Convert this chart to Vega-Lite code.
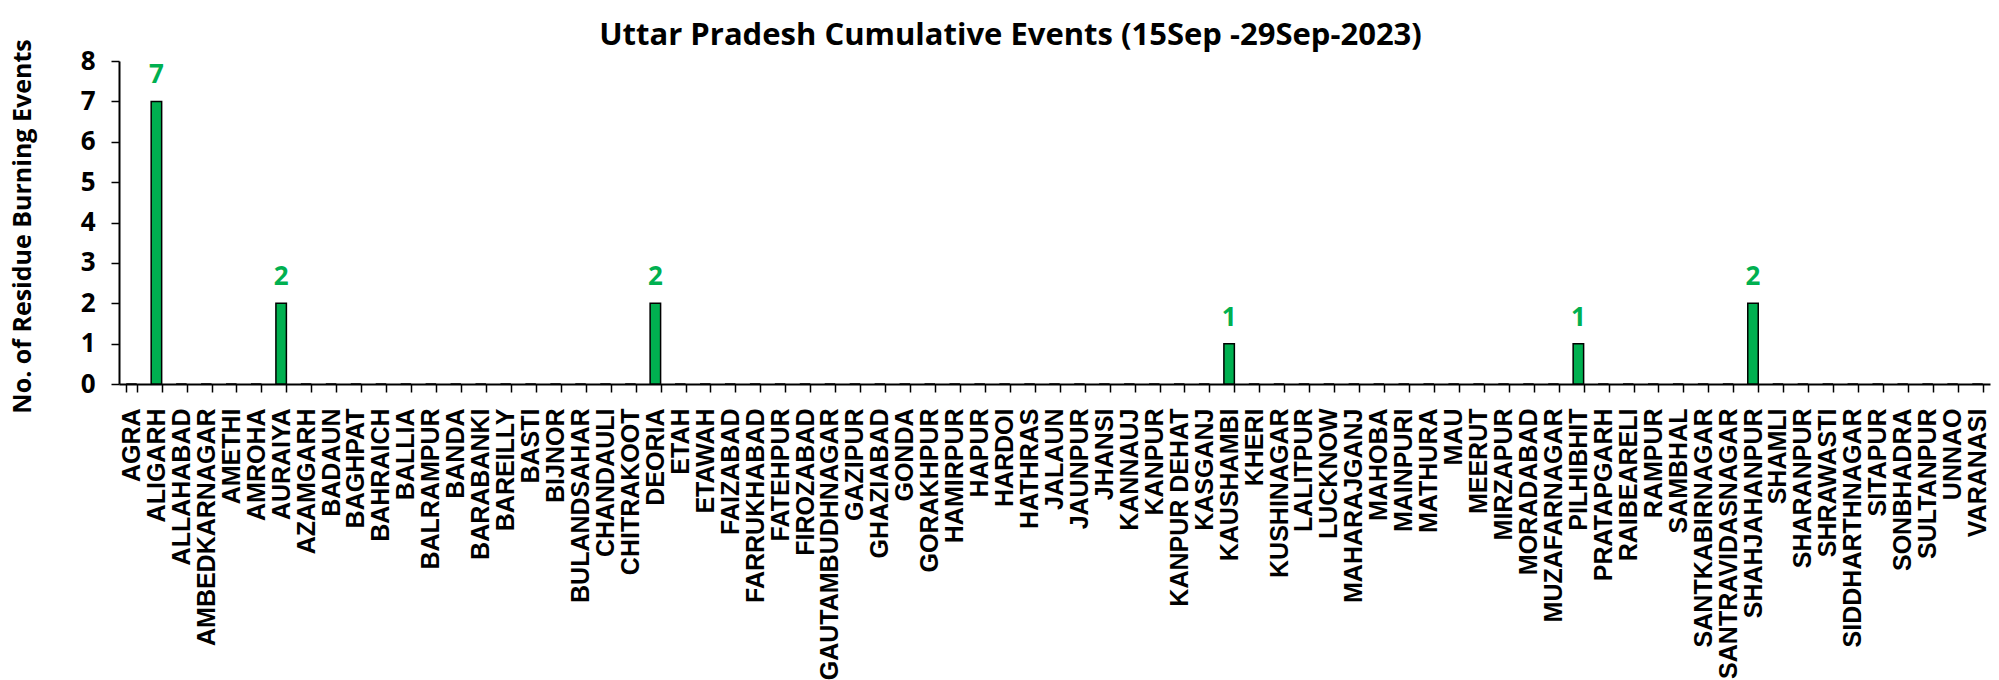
{
  "$schema": "https://vega.github.io/schema/vega-lite/v6.json",
  "width": 1871,
  "height": 323,
  "autosize": {"type": "none"},
  "padding": {"left": 119, "top": 61, "right": 9, "bottom": 296},
  "background": "white",
  "config": {"view": {"stroke": null}},
  "title": {
    "text": "Uttar Pradesh Cumulative Events (15Sep -29Sep-2023)",
    "font": "Open Sans",
    "fontSize": 31,
    "fontWeight": "bold",
    "color": "#000000",
    "anchor": "middle",
    "baseline": "alphabetic",
    "offset": 15,
    "dx": -44,
    "dy": 52
  },
  "data": {
    "values": [
      {"district": "AGRA", "v": 0},
      {"district": "ALIGARH", "v": 7},
      {"district": "ALLAHABAD", "v": 0},
      {"district": "AMBEDKARNAGAR", "v": 0},
      {"district": "AMETHI", "v": 0},
      {"district": "AMROHA", "v": 0},
      {"district": "AURAIYA", "v": 2},
      {"district": "AZAMGARH", "v": 0},
      {"district": "BADAUN", "v": 0},
      {"district": "BAGHPAT", "v": 0},
      {"district": "BAHRAICH", "v": 0},
      {"district": "BALLIA", "v": 0},
      {"district": "BALRAMPUR", "v": 0},
      {"district": "BANDA", "v": 0},
      {"district": "BARABANKI", "v": 0},
      {"district": "BAREILLY", "v": 0},
      {"district": "BASTI", "v": 0},
      {"district": "BIJNOR", "v": 0},
      {"district": "BULANDSAHAR", "v": 0},
      {"district": "CHANDAULI", "v": 0},
      {"district": "CHITRAKOOT", "v": 0},
      {"district": "DEORIA", "v": 2},
      {"district": "ETAH", "v": 0},
      {"district": "ETAWAH", "v": 0},
      {"district": "FAIZABAD", "v": 0},
      {"district": "FARRUKHABAD", "v": 0},
      {"district": "FATEHPUR", "v": 0},
      {"district": "FIROZABAD", "v": 0},
      {"district": "GAUTAMBUDHNAGAR", "v": 0},
      {"district": "GAZIPUR", "v": 0},
      {"district": "GHAZIABAD", "v": 0},
      {"district": "GONDA", "v": 0},
      {"district": "GORAKHPUR", "v": 0},
      {"district": "HAMIRPUR", "v": 0},
      {"district": "HAPUR", "v": 0},
      {"district": "HARDOI", "v": 0},
      {"district": "HATHRAS", "v": 0},
      {"district": "JALAUN", "v": 0},
      {"district": "JAUNPUR", "v": 0},
      {"district": "JHANSI", "v": 0},
      {"district": "KANNAUJ", "v": 0},
      {"district": "KANPUR", "v": 0},
      {"district": "KANPUR DEHAT", "v": 0},
      {"district": "KASGANJ", "v": 0},
      {"district": "KAUSHAMBI", "v": 1},
      {"district": "KHERI", "v": 0},
      {"district": "KUSHINAGAR", "v": 0},
      {"district": "LALITPUR", "v": 0},
      {"district": "LUCKNOW", "v": 0},
      {"district": "MAHARAJGANJ", "v": 0},
      {"district": "MAHOBA", "v": 0},
      {"district": "MAINPURI", "v": 0},
      {"district": "MATHURA", "v": 0},
      {"district": "MAU", "v": 0},
      {"district": "MEERUT", "v": 0},
      {"district": "MIRZAPUR", "v": 0},
      {"district": "MORADABAD", "v": 0},
      {"district": "MUZAFARNAGAR", "v": 0},
      {"district": "PILHIBHIT", "v": 1},
      {"district": "PRATAPGARH", "v": 0},
      {"district": "RAIBEARELI", "v": 0},
      {"district": "RAMPUR", "v": 0},
      {"district": "SAMBHAL", "v": 0},
      {"district": "SANTKABIRNAGAR", "v": 0},
      {"district": "SANTRAVIDASNAGAR", "v": 0},
      {"district": "SHAHJAHANPUR", "v": 2},
      {"district": "SHAMLI", "v": 0},
      {"district": "SHARANPUR", "v": 0},
      {"district": "SHRAWASTI", "v": 0},
      {"district": "SIDDHARTHNAGAR", "v": 0},
      {"district": "SITAPUR", "v": 0},
      {"district": "SONBHADRA", "v": 0},
      {"district": "SULTANPUR", "v": 0},
      {"district": "UNNAO", "v": 0},
      {"district": "VARANASI", "v": 0}
    ]
  },
  "encoding": {
    "x": {
      "field": "district",
      "type": "nominal",
      "sort": null,
      "scale": {"paddingInner": 0.58, "paddingOuter": 0.29},
      "axis": {
        "title": null,
        "labelAngle": -90,
        "labelFont": "Liberation Sans",
        "labelFontSize": 25,
        "labelFontWeight": "bold",
        "labelColor": "#000000",
        "labelPadding": 16,
        "labelOverlap": false,
        "labelLimit": 400,
        "tickBand": "extent",
        "tickSize": 8,
        "tickColor": "#000000",
        "tickWidth": 1.5,
        "domainColor": "#000000",
        "domainWidth": 2
      }
    },
    "y": {
      "field": "v",
      "type": "quantitative",
      "scale": {"domain": [0, 8], "nice": false},
      "axis": {
        "title": "No. of Residue Burning Events",
        "titleFont": "Open Sans",
        "titleFontSize": 25,
        "titleFontWeight": "bold",
        "titleColor": "#000000",
        "titleAngle": -90,
        "titleAlign": "center",
        "titleBaseline": "middle",
        "titleX": -97,
        "titleY": 165,
        "values": [0, 1, 2, 3, 4, 5, 6, 7, 8],
        "labelFont": "Open Sans",
        "labelFontSize": 26,
        "labelFontWeight": "bold",
        "labelColor": "#000000",
        "labelPadding": 16,
        "tickSize": 8,
        "tickColor": "#000000",
        "tickWidth": 1.5,
        "domainColor": "#000000",
        "domainWidth": 2,
        "grid": false
      }
    }
  },
  "layer": [
    {
      "mark": {"type": "bar", "color": "#00B050", "stroke": "#000000", "strokeWidth": 1.5}
    },
    {
      "transform": [{"filter": "datum.v > 0"}],
      "mark": {
        "type": "text",
        "font": "Open Sans",
        "fontSize": 26,
        "fontWeight": "bold",
        "color": "#00B050",
        "baseline": "alphabetic",
        "dy": -18
      },
      "encoding": {"text": {"field": "v", "type": "quantitative"}}
    }
  ]
}
